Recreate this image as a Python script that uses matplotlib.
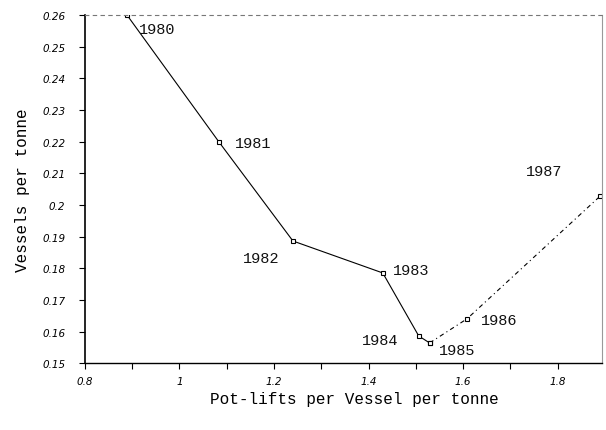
import matplotlib
matplotlib.use('Agg')
from matplotlib import pyplot as plt

# data
years = ['1980', '1981', '1982', '1983', '1984', '1985', '1986', '1987']
potlifts = [0.889, 1.083, 1.240, 1.430, 1.506, 1.529, 1.608, 1.889]
vessels = [0.260, 0.220, 0.1886, 0.1785, 0.1586, 0.1564, 0.164, 0.2027]

yticks = [0.15, 0.16, 0.17, 0.18, 0.19, 0.2, 0.21, 0.22, 0.23, 0.24, 0.25, 0.26]
xticks = [0.8, 1.0, 1.2, 1.4, 1.6, 1.8]
xlabels = ['0.8', '1', '1.2', '1.4', '1.6', '1.8']

# label offsets (points) for each year
offsets = [(9, -10), (12, -1), (-36, -12), (7, 2), (-41, -3), (7, -5), (10, -1), (-53, 18)]

fig = plt.figure(figsize=(6.06, 4.31), dpi=100)
ax = fig.add_axes([0.140, 0.155, 0.853, 0.808])

# solid part up to 1985, broken line afterwards
ax.plot(potlifts[:6], vessels[:6], color='black', lw=0.8,
        marker='s', markersize=3.5, markerfacecolor='white', markeredgewidth=0.8)
ax.plot(potlifts[5:], vessels[5:], color='black', lw=0.8, linestyle=(0, (4, 3, 1, 3)),
        marker='s', markersize=3.5, markerfacecolor='white', markeredgewidth=0.8)

for x, y, t, off in zip(potlifts, vessels, years, offsets):
    ax.annotate(t, (x, y), xytext=off, textcoords='offset points',
                fontsize=11, family='Liberation Mono', color='#111111',
                va='center', ha='left')

ax.set_xlim(0.8, 1.893)
ax.set_ylim(0.15, 0.26)

ax.set_yticks(yticks)
ax.set_yticklabels([('%g' % v) for v in yticks], fontsize=7.5, style='italic')
ax.set_xticks(xticks)
ax.set_xticklabels(xlabels, fontsize=7.5, style='italic')
ax.set_xticks([0.9, 1.1, 1.3, 1.5, 1.7], minor=True)
ax.tick_params(axis='x', which='both', direction='out', length=4, width=0.8)
ax.tick_params(axis='y', direction='out', length=4, width=0.8, pad=10)
ax.tick_params(axis='x', pad=5)

ax.spines['left'].set_linewidth(1.2)
ax.spines['bottom'].set_linewidth(1.0)
ax.spines['top'].set_linestyle((0, (3, 4)))
ax.spines['top'].set_color('#777777')
ax.spines['top'].set_linewidth(0.8)
ax.spines['right'].set_color('#999999')
ax.spines['right'].set_linewidth(0.8)

ax.set_ylabel('Vessels per tonne', family='Liberation Mono', fontsize=11.5, labelpad=9)
ax.set_xlabel('Pot-lifts per Vessel per tonne', family='Liberation Mono', fontsize=11.5)
ax.xaxis.set_label_coords(0.522, -0.08)

plt.savefig('out.png', dpi=100)
